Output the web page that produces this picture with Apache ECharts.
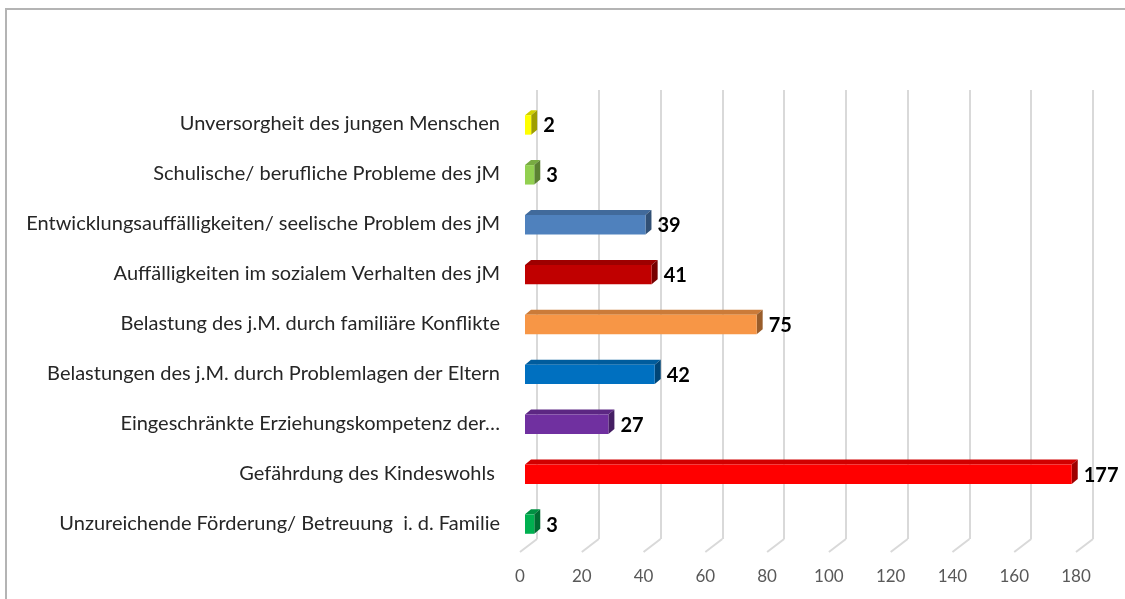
<!DOCTYPE html>
<html>
<head>
<meta charset="utf-8">
<script src="https://cdn.jsdelivr.net/npm/echarts@6/dist/echarts.min.js"></script>
<style>
  html, body { margin: 0; padding: 0; background: #fff; }
  #main { width: 1125px; height: 599px; }
</style>
</head>
<body>
<div id="main"></div>
<script>
// data, top to bottom
var categories = [
  'Unversorgheit des jungen Menschen',
  'Schulische/ berufliche Probleme des jM',
  'Entwicklungsauffälligkeiten/ seelische Problem des jM',
  'Auffälligkeiten im sozialem Verhalten des jM',
  'Belastung des j.M. durch familiäre Konflikte',
  'Belastungen des j.M. durch Problemlagen der Eltern',
  'Eingeschränkte Erziehungskompetenz der…',
  'Gefährdung des Kindeswohls ',
  'Unzureichende Förderung/ Betreuung  i. d. Familie'
];
var values = [2, 3, 39, 41, 75, 42, 27, 177, 3];
var barColors = ['#FFFF00', '#92D050', '#4F81BD', '#C00000', '#F79646', '#0070C0', '#7030A0', '#FF0000', '#00B050'];
var axisTicks = [0, 20, 40, 60, 80, 100, 120, 140, 160, 180];

var FONT = 'Lato';

function shade(hex, f) {
  var n = parseInt(hex.slice(1), 16);
  var r = Math.round(((n >> 16) & 255) * f);
  var g = Math.round(((n >> 8) & 255) * f);
  var b = Math.round((n & 255) * f);
  return 'rgb(' + r + ',' + g + ',' + b + ')';
}

var barData = values.map(function (v, i) { return [v, i]; });

var chart = echarts.init(document.getElementById('main'));

chart.setOption({
  animation: false,
  graphic: [{
    type: 'rect',
    shape: { x: 6, y: 9, width: 1300, height: 800 },
    style: { fill: 'none', stroke: '#b4b4b4', lineWidth: 2 }
  }],
  grid: [
    { left: 525, right: 44, top: 99, bottom: 51 },   // bar plane
    { left: 520, right: 49, top: 103, bottom: 47 },  // front (labels)
    { left: 537, right: 32, top: 90, bottom: 60 }    // back wall
  ],
  xAxis: [
    { gridIndex: 0, type: 'value', min: 0, max: 180, show: false },
    {
      gridIndex: 1, type: 'value', min: 0, max: 180, interval: 20,
      axisLine: { show: false }, axisTick: { show: false }, splitLine: { show: false },
      axisLabel: { margin: 16, color: '#595959', fontSize: 17, fontFamily: FONT }
    },
    {
      gridIndex: 2, type: 'value', min: 0, max: 180, interval: 20,
      axisLine: { show: false }, axisTick: { show: false }, axisLabel: { show: false },
      splitLine: { show: true, lineStyle: { color: '#d9d9d9', width: 2 } }
    }
  ],
  yAxis: [
    {
      gridIndex: 0, type: 'category', data: categories, inverse: true,
      axisLine: { show: false }, axisTick: { show: false },
      axisLabel: { margin: 25, color: '#262626', fontSize: 20, fontFamily: FONT, padding: [6, 0, 0, 0] }
    },
    { gridIndex: 1, type: 'value', min: 0, max: 1, show: false },
    { gridIndex: 2, type: 'value', min: 0, max: 1, show: false }
  ],
  series: [
    {
      // floor diagonals under the back gridlines
      type: 'custom',
      xAxisIndex: 2, yAxisIndex: 2,
      data: axisTicks.map(function (t) { return [t, 0]; }),
      renderItem: function (params, api) {
        var p = api.coord([api.value(0), 0]);
        return {
          type: 'line',
          shape: { x1: p[0], y1: p[1], x2: p[0] - 17, y2: p[1] + 13 },
          style: { stroke: '#d9d9d9', lineWidth: 2 }
        };
      }
    },
    {
      type: 'custom',
      xAxisIndex: 0, yAxisIndex: 0,
      data: barData,
      renderItem: function (params, api) {
        var idx = api.value(1);
        var col = barColors[idx];
        var p0 = api.coord([0, idx]);
        var p1 = api.coord([api.value(0), idx]);
        var h = api.size([0, 1])[1] * 0.39;
        var x0 = p0[0], x1 = p1[0];
        var y0 = p0[1] - h / 2 + 1, y1 = p0[1] + h / 2 + 1;
        var dx = 6, dy = -5;
        return {
          type: 'group',
          children: [
            {
              type: 'polygon',
              shape: { points: [[x0, y0], [x0 + dx, y0 + dy], [x1 + dx, y0 + dy], [x1, y0]] },
              style: { fill: shade(col, 0.82) }
            },
            {
              type: 'polygon',
              shape: { points: [[x1, y0], [x1 + dx, y0 + dy], [x1 + dx, y1 + dy], [x1, y1]] },
              style: { fill: shade(col, 0.62) }
            },
            {
              type: 'rect',
              shape: { x: x0, y: y0, width: x1 - x0, height: h },
              style: { fill: col }
            },
            {
              type: 'text',
              x: x1 + dx + 6, y: p0[1] + 2,
              style: {
                text: String(api.value(0)),
                fill: '#000', fontWeight: 'bold', fontSize: 20, fontFamily: FONT,
                verticalAlign: 'middle', align: 'left'
              }
            }
          ]
        };
      }
    }
  ]
});
</script>
</body>
</html>
